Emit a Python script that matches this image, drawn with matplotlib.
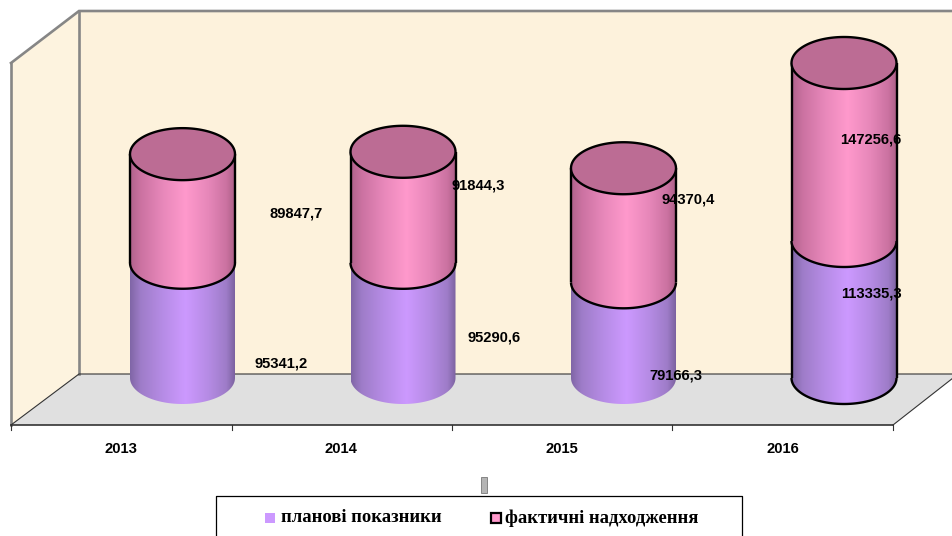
import numpy as np
import matplotlib
matplotlib.use('Agg')
import matplotlib.pyplot as plt
from matplotlib.colors import LinearSegmentedColormap
from matplotlib.patches import Polygon, Rectangle

years = ['2013', '2014', '2015', '2016']
plan = [95341.2, 95290.6, 79166.3, 113335.3]
fact = [89847.7, 91844.3, 94370.4, 147256.6]
plan_labels = ['95341,2', '95290,6', '79166,3', '113335,3']
fact_labels = ['89847,7', '91844,3', '94370,4', '147256,6']
series_names = ['планові показники', 'фактичні надходження']

W, H = 953, 536
# pixel layout of the fake 3d box
base_y = 378
px_per_unit = 315 / 260591.9
x0 = 182.5
step = 220.5
rx = 52.5
ry = 26

plan_pos = [(281, 363), (494, 337), (676, 376), (871, 293)]
fact_pos = [(296, 214), (478, 186), (688, 199), (871, 139)]
year_x = [121, 341, 562, 783]

wall = '#FDF2DC'
grey = '#868686'

fig = plt.figure(figsize=(W / 100, H / 100), dpi=100)
bg = fig.add_axes([0, 0, 1, 1])
bg.set_xlim(0, W)
bg.set_ylim(H, 0)
bg.axis('off')

# walls and floor
bg.add_patch(Polygon([(79, 11), (953, 11), (953, 374), (79, 374)], fc=wall, ec='none'))
bg.add_patch(Polygon([(11, 63), (79, 11), (79, 374), (11, 425)], fc='#FDF3DF', ec='none'))
bg.add_patch(Polygon([(11, 425), (79, 374), (953, 374), (953, 378), (893, 425)], fc='#E0E0E0', ec='none'))
bg.plot([11, 79, 953], [63, 11, 11], color=grey, lw=1.9, solid_joinstyle='miter')
bg.plot([11, 11], [63, 425], color=grey, lw=1.9)
bg.plot([79, 79], [11, 374], color=grey, lw=1.9)
bg.plot([11, 79, 953], [425, 374, 374], color='#333333', lw=0.8)
bg.plot([893, 953], [425, 378], color='#333333', lw=0.8)
bg.plot([11, 893], [425, 425], color='#333333', lw=1.2)
for tx in [11, 232, 452, 672, 893]:
    bg.plot([tx, tx], [425, 430], color='#333333', lw=0.8)

# value axes, laid over the box
ax = fig.add_axes([0, 0, 1, 1])
ax.patch.set_alpha(0)
ax.axis('off')
xlim = ((0 - x0) / step, (W - x0) / step)
ylim = ((base_y - H) / px_per_unit, base_y / px_per_unit)
ax.set_xlim(xlim)
ax.set_ylim(ylim)

rx_d = rx / step
ry_d = ry / px_per_unit

purple_cmap = LinearSegmentedColormap.from_list('p', [(0, '#8066A6'), (0.1, '#9E7CC8'), (0.3, '#B58BE4'), (0.53, '#CC99FF'), (0.75, '#B58BE4'), (0.92, '#9E7CC8'), (1, '#7C62A0')])
pink_cmap = LinearSegmentedColormap.from_list('r', [(0, '#B0628C'), (0.1, '#CB72A1'), (0.3, '#E687B9'), (0.53, '#FF99CC'), (0.75, '#E687B9'), (0.92, '#CB72A1'), (1, '#AC6088')])
shade = np.linspace(0, 1, 256).reshape(1, -1)


def cylinder(cx, y_low, y_high, cmap, outline, z):
    t = np.linspace(0, np.pi, 80)
    ex = cx + rx_d * np.cos(t)
    ey = ry_d * np.sin(t)
    # side of the cylinder: lower half ellipse, then up and over the top
    low = np.column_stack([ex[::-1], y_low - ey[::-1]])
    high = np.column_stack([ex, y_high - ey])
    side = Polygon(np.vstack([low, high]), closed=True, fc='none', ec='none', transform=ax.transData)
    ax.add_patch(side)
    im = ax.imshow(shade, cmap=cmap, aspect='auto', zorder=z,
                   extent=(cx - rx_d, cx + rx_d, y_low - ry_d, y_high + ry_d))
    im.set_clip_path(side)
    if outline:
        ax.plot(low[:, 0], low[:, 1], color='black', lw=1.7, zorder=z + 0.1, solid_capstyle='butt')
        ax.plot([cx - rx_d, cx - rx_d], [y_low, y_high], color='black', lw=1.7, zorder=z + 0.1, solid_capstyle='butt')
        ax.plot([cx + rx_d, cx + rx_d], [y_low, y_high], color='black', lw=1.7, zorder=z + 0.1, solid_capstyle='butt')


for i in range(len(years)):
    total = plan[i] + fact[i]
    cylinder(i, 0, plan[i], purple_cmap, years[i] == '2016', 2)
    cylinder(i, plan[i], total, pink_cmap, True, 3)
    t = np.linspace(0, 2 * np.pi, 160)
    ax.fill(i + rx_d * np.cos(t), total + ry_d * np.sin(t), fc='#BC6C94', ec='black', lw=1.7, zorder=4)

ax.set_xlim(xlim)
ax.set_ylim(ylim)

# texts and legend on top
top = fig.add_axes([0, 0, 1, 1])
top.patch.set_alpha(0)
top.set_xlim(0, W)
top.set_ylim(H, 0)
top.axis('off')
lab = dict(family='Liberation Sans', fontweight='bold', fontsize=10.6, color='black', ha='center', va='center')
for i in range(len(years)):
    top.text(plan_pos[i][0], plan_pos[i][1], plan_labels[i], **lab)
    top.text(fact_pos[i][0], fact_pos[i][1], fact_labels[i], **lab)
    top.text(year_x[i], 449, years[i], **lab)

top.add_patch(Rectangle((481, 477), 6, 16, fc='#B4B4B4', ec='#777777', lw=0.6))
top.plot([216, 216, 742, 742], [538, 496, 496, 538], color='black', lw=0.9)
top.add_patch(Rectangle((265, 513), 10, 10, fc='#CC99FF', ec='none'))
top.add_patch(Rectangle((491, 513), 10, 10, fc='#FF99CC', ec='black', lw=1.6))
leg = dict(family='Liberation Serif', fontweight='bold', fontsize=13.4, color='black', va='center', ha='left')
top.text(281, 518, series_names[0], **leg)
top.text(505, 518, series_names[1], **leg)

fig.savefig('out.png', dpi=100)
